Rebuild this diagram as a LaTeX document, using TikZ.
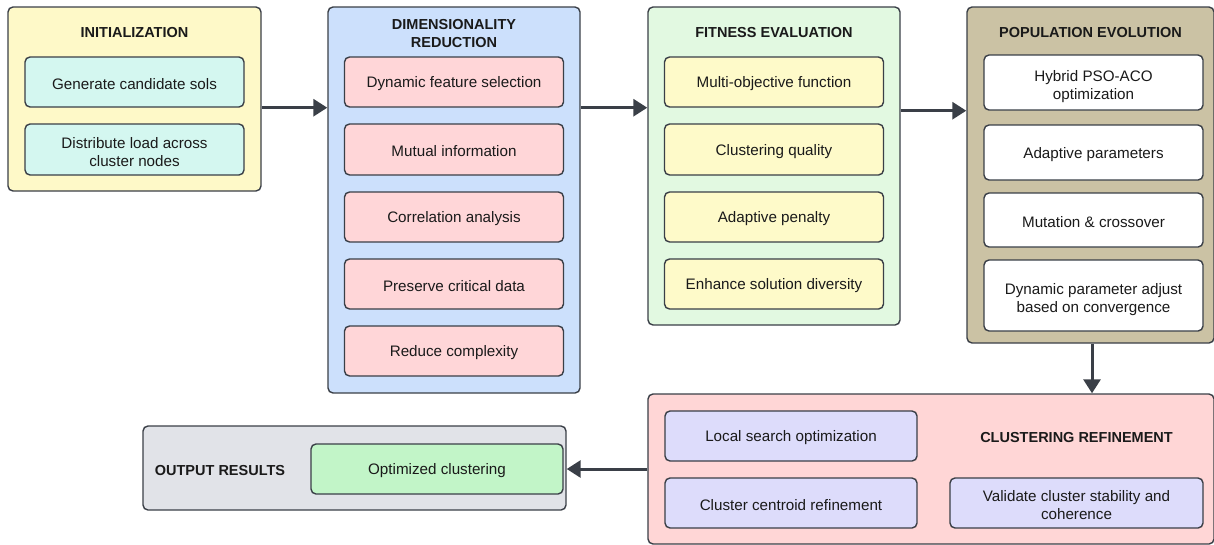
\documentclass[tikz,border=0pt]{standalone}
\usepackage{fontspec}
\setmainfont{Liberation Sans}
\usetikzlibrary{arrows.meta}
\definecolor{edge}{HTML}{3A3F47}
\definecolor{txt}{HTML}{1A1A1A}
\definecolor{initbg}{HTML}{FEF9C8}
\definecolor{initin}{HTML}{D4F7F0}
\definecolor{dimbg}{HTML}{CCE0FC}
\definecolor{dimin}{HTML}{FFD6D8}
\definecolor{fitbg}{HTML}{E2F9E1}
\definecolor{fitin}{HTML}{FEFAC9}
\definecolor{popbg}{HTML}{CBC2A4}
\definecolor{clbg}{HTML}{FFD6D6}
\definecolor{clin}{HTML}{DDDCFB}
\definecolor{outbg}{HTML}{E1E3E8}
\definecolor{outin}{HTML}{C2F5C8}
\begin{document}
\begin{tikzpicture}[x=1pt,y=-1pt,
 outer/.style={draw=edge, line width=1.4pt, rounded corners=5pt, inner sep=0pt},
 inbox/.style={draw=edge, line width=1.4pt, rounded corners=5pt, minimum width=219pt, minimum height=50pt, align=center, inner sep=2pt, font=\fontsize{15.2}{18}\selectfont, text=txt, execute at begin node={\rule{0pt}{14.5pt}}},
 twoline/.style={text height=33pt, text depth=0pt},
 ttl/.style={font=\bfseries\fontsize{14.5}{18}\selectfont, align=center, text=txt, inner sep=0pt},
 arr/.style={draw=edge, line width=3pt, -{Triangle[length=14pt,width=17pt]}}]
\useasboundingbox (0,0) rectangle (1214,544);
% outer containers
\node[outer, fill=initbg, minimum width=253pt, minimum height=184pt] (init) at (134.5,99) {};
\node[outer, fill=dimbg, minimum width=252pt, minimum height=386pt] (dim) at (454,200) {};
\node[outer, fill=fitbg, minimum width=252pt, minimum height=318pt] (fit) at (774,166) {};
\node[outer, fill=popbg, minimum width=247pt, minimum height=336pt] (pop) at (1090.5,175) {};
\node[outer, fill=clbg, minimum width=566pt, minimum height=150pt] (clust) at (931,469) {};
\node[outer, fill=outbg, minimum width=423pt, minimum height=84pt] (out) at (354.5,468) {};
% titles
\node[ttl] (tinit) at (134.5,33) {INITIALIZATION};
\node[ttl] (tdim) at (454,34) {DIMENSIONALITY\\REDUCTION};
\node[ttl] (tfit) at (774,33) {FITNESS EVALUATION};
\node[ttl] (tpop) at (1090.5,33) {POPULATION EVOLUTION};
\node[ttl] (tcl) at (1076.5,437) {CLUSTERING REFINEMENT};
\node[ttl] (tout) at (220,470) {OUTPUT RESULTS};
% initialization
\node[inbox, fill=initin] (g1) at (134.5,82) {Generate candidate sols};
\node[inbox, twoline, fill=initin, minimum height=51pt] (g2) at (134.5,149.5) {Distribute load across\\cluster nodes};
% dimensionality reduction
\node[inbox, fill=dimin] (d1) at (454,82) {Dynamic feature selection};
\node[inbox, fill=dimin, minimum height=51pt] (d2) at (454,149.5) {Mutual information};
\node[inbox, fill=dimin] (d3) at (454,217) {Correlation analysis};
\node[inbox, fill=dimin] (d4) at (454,284) {Preserve critical data};
\node[inbox, fill=dimin] (d5) at (454,351) {Reduce complexity};
% fitness evaluation
\node[inbox, fill=fitin] (f1) at (774,82) {Multi-objective function};
\node[inbox, fill=fitin, minimum height=51pt] (f2) at (774,149.5) {Clustering quality};
\node[inbox, fill=fitin] (f3) at (774,217) {Adaptive penalty};
\node[inbox, fill=fitin] (f4) at (774,284) {Enhance solution diversity};
% population evolution
\node[inbox, twoline, fill=white, minimum height=55pt] (p1) at (1093.5,82.5) {Hybrid PSO-ACO\\optimization};
\node[inbox, fill=white, minimum height=55pt] (p2) at (1093.5,152.5) {Adaptive parameters};
\node[inbox, fill=white, minimum height=54pt] (p3) at (1093.5,220) {Mutation \& crossover};
\node[inbox, twoline, fill=white, minimum height=71pt] (p4) at (1093.5,295.5) {Dynamic parameter adjust\\based on convergence};
% clustering refinement
\node[inbox, fill=clin, minimum width=252pt] (c1) at (791,436) {Local search optimization};
\node[inbox, fill=clin, minimum width=252pt] (c2) at (791,503) {Cluster centroid refinement};
\node[inbox, twoline, fill=clin, minimum width=253pt] (c3) at (1076.5,503) {Validate cluster stability and\\coherence};
% output
\node[inbox, fill=outin, minimum width=252pt] (o1) at (437,469) {Optimized clustering};
% connectors
\draw[arr] (g1.south -| init.east) -- (g1.south -| dim.west);
\draw[arr] (d1.south -| dim.east) -- (d1.south -| fit.west);
\draw[arr] (p1.south -| fit.east) -- (p1.south -| pop.west);
\draw[arr] ([xshift=1.5pt]pop.south) -- ([xshift=1.5pt]pop.south |- clust.north);
\draw[arr] (clust.west) -- (clust.west -| out.east);
\end{tikzpicture}
\end{document}
